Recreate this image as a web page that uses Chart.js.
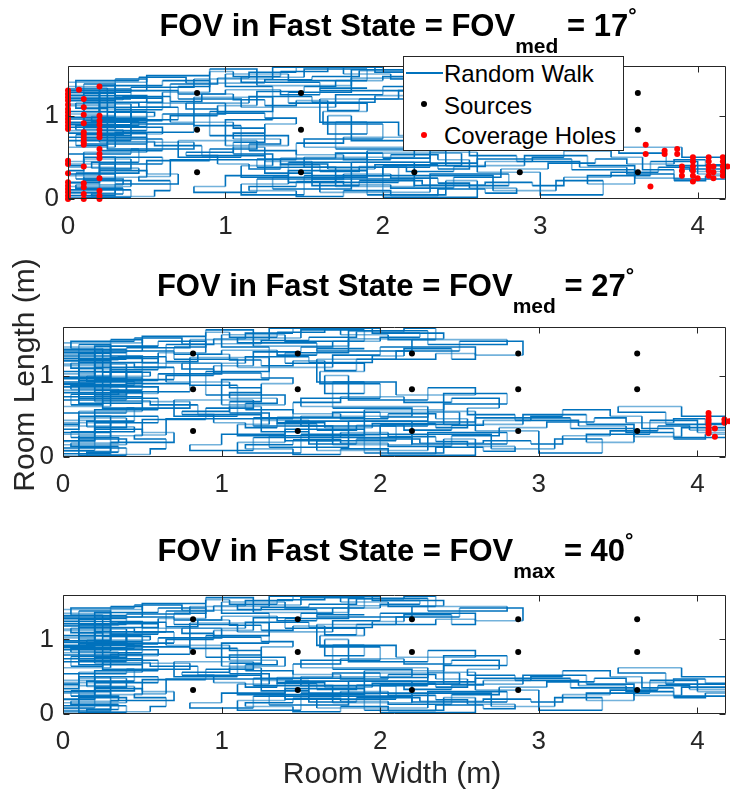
<!DOCTYPE html>
<html>
<head>
<meta charset="utf-8">
<script src="https://cdn.jsdelivr.net/npm/chart.js@4.4.0/dist/chart.umd.min.js"></script>
<style>
body { margin:0; background:#fff; width:730px; height:790px; position:relative; overflow:hidden; font-family:"Liberation Sans", Arial, sans-serif; }
canvas.plot { position:absolute; left:0; }
.ttl { position:absolute; text-align:center; font-weight:bold; font-size:31px; line-height:31px; color:#000; white-space:nowrap; }
.ttl sub { font-size:21px; line-height:0; vertical-align:-17px; }
.ttl sup { font-size:21px; line-height:0; vertical-align:14px; }
.lbl { position:absolute; font-size:30px; line-height:30px; color:#262626; text-align:center; white-space:nowrap; }
#legend { position:absolute; left:403px; top:56px; width:221px; height:95px; box-sizing:border-box; border:1px solid #262626; background:#fff; }
#legend .t { position:absolute; left:40px; font-size:24px; line-height:24px; color:#000; white-space:nowrap; }
#legend .dot { position:absolute; width:6px; height:6px; border-radius:50%; }
</style>
</head>
<body>
<canvas id="c1" class="plot"></canvas>
<canvas id="c2" class="plot"></canvas>
<canvas id="c3" class="plot"></canvas>

<div class="ttl" style="left:68px;width:660px;top:10px">FOV in Fast State = FOV<sub>med</sub> = 17<sup>°</sup></div>
<div class="ttl" style="left:63px;width:665px;top:270px">FOV in Fast State = FOV<sub>med</sub> = 27<sup>°</sup></div>
<div class="ttl" style="left:63px;width:665px;top:535px">FOV in Fast State = FOV<sub>max</sub> = 40<sup>°</sup></div>

<div class="lbl" style="left:-126px;top:360px;width:300px;transform:rotate(-90deg)">Room Length (m)</div>
<div class="lbl" style="left:0;top:758px;width:784px">Room Width (m)</div>

<div id="legend">
  <div style="position:absolute;left:2px;top:15px;width:37px;height:1.5px;background:#0072BD"></div>
  <div class="t" style="top:5px">Random Walk</div>
  <div class="dot" style="left:17px;top:44px;background:#000"></div>
  <div class="t" style="top:37px">Sources</div>
  <div class="dot" style="left:17px;top:75px;background:#ff0000"></div>
  <div class="t" style="top:67px">Coverage Holes</div>
</div>

<script>
// axis ticks
const xTicks = [0, 1, 2, 3, 4];
const yTicks = [0, 1];

// source positions (grid)
const srcX = [0.82, 1.48, 2.2, 2.87, 3.62];
const srcY = [0.32, 0.83, 1.27];

// the random walk (same path in all three panels)
const walk = [
[0.0,0.92],[0.5,0.92],[0.5,1.05],[0.0,1.05],[0.0,1.12],[0.3,1.12],[0.3,0.98],[0.0,0.98],[0.0,0.86],[0.6,0.86],
[0.6,0.78],[0.1,0.78],[0.1,1.2],[0.4,1.2],[0.4,1.32],[0.0,1.32],[0.0,1.26],[0.2,1.26],[0.2,0.95],[0.7,0.95],
[0.7,1.1],[0.2,1.1],[0.2,0.82],[0.0,0.82],[0.0,0.74],[0.5,0.74],[0.5,0.66],[0.1,0.66],[0.1,1.0],[0.3,1.0],
[0.3,1.38],[0.1,1.38],[0.1,1.16],[0.6,1.16],[0.6,1.28],[0.9,1.28],[0.9,1.42],[0.6,1.42],[0.6,1.36],[0.2,1.36],
[0.2,1.02],[0.0,1.02],[0.0,0.89],[0.4,0.89],[0.4,0.7],[0.0,0.7],[0.0,0.62],[0.3,0.62],[0.3,0.8],[0.8,0.8],
[0.8,0.9],[0.4,0.9],[0.4,1.08],[0.1,1.08],[0.1,0.94],[0.6,0.94],[0.6,1.02],[1.0,1.02],[1.0,1.15],[0.5,1.15],
[0.5,1.24],[0.0,1.24],[0.0,1.18],[0.3,1.18],[0.3,0.84],[0.1,0.84],[0.1,0.72],[0.6,0.72],[0.6,0.58],[0.2,0.58],
[0.2,0.45],[0.0,0.45],[0.0,0.3],[0.3,0.3],[0.3,0.04],[0.0,0.04],[0.0,0.15],[0.4,0.15],[0.4,0.22],[0.1,0.22],
[0.1,0.5],[0.3,0.5],[0.3,0.38],[0.0,0.38],[0.0,0.08],[0.2,0.08],[0.2,0.34],[0.5,0.34],[0.5,0.26],[0.1,0.26],
[0.1,0.02],[0.4,0.02],[0.4,0.11],[0.0,0.11],[0.0,0.19],[0.2,0.19],[0.2,0.42],[0.6,0.42],[0.6,0.5],[0.2,0.5],
[0.2,0.28],[0.0,0.28],[0.0,0.01],[0.3,0.01],[0.3,0.18],[0.7,0.18],[0.7,0.3],[0.5,0.3],[0.5,0.46],[0.9,0.46],
[0.9,0.6],[1.2,0.6],[1.2,0.7],[0.7,0.7],[0.7,0.5],[1.1,0.5],[1.1,0.88],[0.8,0.88],[0.8,1.22],[1.3,1.22],
[1.3,1.05],[0.9,1.05],[0.9,0.76],[1.4,0.76],[1.4,0.64],[1.0,0.64],[1.0,0.95],[1.3,0.95],[1.3,1.35],[1.0,1.35],
[1.0,1.5],[1.4,1.5],[1.4,1.42],[1.9,1.42],[1.9,1.56],[1.5,1.56],[1.5,1.46],[1.1,1.46],[1.1,1.4],[1.6,1.4],
[1.6,1.3],[2.2,1.3],[2.2,1.44],[2.8,1.44],[2.8,1.38],[2.3,1.38],[2.3,1.55],[1.8,1.55],[1.8,1.36],[1.2,1.36],
[1.2,1.56],[0.9,1.56],[0.9,1.48],[0.5,1.48],[0.5,1.4],[0.0,1.4],[0.0,1.3],[0.7,1.3],[0.7,1.2],[1.1,1.2],
[1.1,1.1],[1.7,1.1],[1.7,1.25],[2.0,1.25],[2.0,1.35],[2.6,1.35],[2.6,1.25],[2.9,1.25],[2.9,1.42],[2.5,1.42],
[2.5,1.3],[2.1,1.3],[2.1,1.2],[1.6,1.2],[1.6,0.92],[1.9,0.92],[1.9,0.78],[1.65,0.78],[1.65,1.0],[1.8,1.0],
[1.8,0.7],[2.3,0.7],[2.3,0.85],[2.6,0.85],[2.6,0.76],[2.1,0.76],[2.1,0.92],[1.7,0.92],[1.7,0.6],[2.2,0.6],
[2.2,0.5],[1.5,0.5],[1.5,0.38],[2.1,0.38],[2.1,0.2],[1.6,0.2],[1.6,0.08],[2.3,0.08],[2.3,0.3],[2.8,0.3],
[2.8,0.16],[2.2,0.16],[2.2,0.44],[1.8,0.44],[1.8,0.12],[1.3,0.12],[1.3,0.26],[1.9,0.26],[1.9,0.55],[2.5,0.55],
[2.5,0.4],[2.0,0.4],[2.0,0.02],[2.6,0.02],[2.6,0.22],[2.4,0.22],[2.4,0.05],[1.9,0.05],[1.9,0.34],[1.4,0.34],
[1.4,0.18],[1.1,0.18],[1.1,0.05],[1.5,0.05],[1.5,0.28],[2.7,0.28],[2.7,0.1],[3.1,0.1],[3.1,0.22],[3.4,0.22],
[3.4,0.05],[3.0,0.05],[3.0,0.32],[2.6,0.32],[2.6,0.48],[3.2,0.48],[3.2,0.35],[3.6,0.35],[3.6,0.18],[3.3,0.18],
[3.3,0.28],[3.7,0.28],[3.7,0.45],[4.0,0.45],[4.0,0.3],[4.2,0.3],[4.2,0.4],[3.8,0.4],[3.8,0.55],[3.5,0.55],
[3.5,0.62],[3.9,0.62],[3.9,0.5],[4.2,0.5],[4.2,0.36],[3.9,0.36],[3.9,0.25],[3.6,0.25],[3.6,0.4],[3.3,0.4],
[3.3,0.52],[2.9,0.52],[2.9,0.4],[2.4,0.4],[2.4,0.65],[2.8,0.65],[2.8,0.78],[2.4,0.78],[2.4,0.58],[1.9,0.58],
[1.9,0.48],[1.2,0.48],[1.2,0.38],[1.7,0.38],[1.7,0.15],[2.2,0.15],[2.2,0.24],[1.2,0.24],[1.2,0.08],[0.8,0.08],
[0.8,0.15],[1.0,0.15],[1.0,0.28],[1.4,0.28],[1.4,0.44],[2.3,0.44],[2.3,0.62],[1.5,0.62],[1.5,0.72],[2.0,0.72],
[2.0,0.9],[1.62,0.9],[1.62,1.05],[1.9,1.05],[1.9,1.15],[1.4,1.15],[1.4,1.28],[1.8,1.28],[1.8,1.45],[2.4,1.45],
[2.4,1.52],[2.0,1.52],[2.0,1.58],[1.3,1.58],[1.3,1.44],[0.8,1.44],[0.8,1.34],[0.4,1.34],[0.4,1.28],[0.0,1.28],
[0.0,1.35],[0.3,1.35],[0.3,1.22],[0.5,1.22],[0.5,0.82],[0.2,0.82],[0.2,0.68],[0.8,0.68],[0.8,0.6],[0.4,0.6],
[0.4,0.54],[0.0,0.54],[0.0,0.42],[0.3,0.42],[0.3,0.24],[0.1,0.24],[0.1,0.12],[0.3,0.12],[0.3,0.07],[0.0,0.07],
[0.0,0.2],[0.2,0.2],[0.2,0.36],[0.4,0.36],[0.4,0.48],[0.1,0.48],[0.1,0.4],[0.0,0.4],[0.0,0.34],[0.1,0.34],
[0.1,0.56],[0.5,0.56],[0.5,0.79],[0.0,0.79],[0.0,0.96],[0.4,0.96],[0.4,1.14],[0.0,1.14],[0.0,1.21],[0.6,1.21],
[0.6,1.07],[0.3,1.07],[0.3,0.91],[0.1,0.91],[0.1,0.87],[0.5,0.87],[0.5,0.97],[0.2,0.97],[0.2,1.3],[0.5,1.3],
[0.5,1.44],[0.3,1.44],[0.3,1.27],[0.1,1.27],[0.1,1.04],[0.4,1.04],[0.4,0.76],[0.2,0.76],[0.2,0.9],[0.0,0.9],
[0.0,1.19],[0.35,1.19],[0.35,1.23],[0.65,1.23],[0.65,1.17],[0.85,1.17],[0.85,1.26],[1.05,1.26],[1.05,1.19],[1.25,1.19],
[1.25,1.12],[1.45,1.12],[1.45,1.18],[1.65,1.18],[1.65,1.06],[1.85,1.06],[1.85,1.2],[2.35,1.2],[2.35,1.27],[2.6,1.27],
[2.6,1.2],[2.45,1.2],[2.45,1.33],[2.15,1.33],[2.15,1.24],[1.95,1.24],[1.95,1.16],[1.55,1.16],[1.55,1.23],[1.15,1.23],
[1.15,1.15],[0.75,1.15],[0.75,1.08],[0.95,1.08],[0.95,1.0],[0.65,1.0],[0.65,0.92],[1.05,0.92],[1.05,0.85],[1.25,0.85],
[1.25,0.79],[1.05,0.79],[1.05,0.72],[1.35,0.72],[1.35,0.66],[1.15,0.66],[1.15,0.58],[1.45,0.58],[1.45,0.53],[1.75,0.53],
[1.75,0.47],[2.05,0.47],[2.05,0.53],[2.35,0.53],[2.35,0.47],[2.55,0.47],[2.55,0.36],[2.35,0.36],[2.35,0.41],[1.95,0.41],
[1.95,0.36],[1.65,0.36],[1.65,0.42],[1.35,0.42],[1.35,0.36],[1.15,0.36],[1.15,0.42],[0.95,0.42],[0.95,0.52],[0.75,0.52],
[0.75,0.56],[1.05,0.56],[1.05,0.62],[1.25,0.62],[1.25,0.31],[1.55,0.31],[1.55,0.24],[1.75,0.24],[1.75,0.3],[2.05,0.3],
[2.05,0.25],[2.35,0.25],[2.35,0.19],[2.55,0.19],[2.55,0.13],[2.85,0.13],[2.85,0.07],[2.65,0.07],[2.65,0.12],[2.35,0.12],
[2.35,0.04],[2.05,0.04],[2.05,0.1],[1.75,0.1],[1.75,0.03],[1.45,0.03],[1.45,0.1],[1.15,0.1],[1.15,0.15],[1.45,0.15],
[1.45,0.21],[1.75,0.21],[1.75,0.17],[2.05,0.17],[2.05,0.13],[2.45,0.13],[2.45,0.26],[2.75,0.26],[2.75,0.36],[3.05,0.36],
[3.05,0.43],[3.35,0.43],[3.35,0.48],[3.55,0.48],[3.55,0.42],[3.85,0.42],[3.85,0.47],[4.05,0.47],[4.05,0.41],[4.2,0.41],
[4.2,0.33],[3.95,0.33],[3.95,0.38],[3.75,0.38],[3.75,0.32],[3.45,0.32],[3.45,0.26],[3.15,0.26],[3.15,0.16],[2.95,0.16],
[2.95,0.2],[2.65,0.2],[2.65,0.17],[2.25,0.17],[2.25,0.22],[1.85,0.22],[1.85,0.16],[1.55,0.16],[1.55,0.45],[1.25,0.45],
[1.25,0.52],[0.85,0.52],[0.85,0.64],[0.55,0.64],[0.55,0.69],[0.25,0.69],[0.25,0.64],[0.05,0.64],[0.05,0.77],[0.35,0.77],
[0.35,0.83],[0.05,0.83],[0.05,0.88],[0.45,0.88],[0.45,0.93],[0.15,0.93],[0.15,0.99],[0.55,0.99],[0.55,1.04],[0.25,1.04],
[0.25,1.09],[0.05,1.09],[0.05,1.15],[0.45,1.15],[0.45,1.1],[0.65,1.1],[0.65,1.38],[0.95,1.38],[0.95,1.45],[1.15,1.45],
[1.15,1.52],[1.45,1.52],[1.45,1.58],[1.75,1.58],[1.75,1.5],[2.05,1.5],[2.05,1.44],[2.35,1.44],[2.35,1.58],[2.15,1.58],
[2.15,1.54],[1.85,1.54],[1.85,1.47],[1.55,1.47],[1.55,1.43],[1.25,1.43],[1.25,1.39],[0.75,1.39],[0.75,1.46],[0.45,1.46],
[0.45,1.42],[0.05,1.42],[0.05,1.33],[0.25,1.33],[0.25,0.6],[0.45,0.6],[0.45,0.44],[0.15,0.44],[0.15,0.37],[0.45,0.37],
[0.45,0.31],[0.05,0.31],[0.05,0.24],[0.35,0.24],[0.35,0.17],[0.05,0.17],[0.05,0.13],[0.35,0.13],[0.35,0.06],[0.15,0.06],
[0.15,0.03],[0.55,0.03],[0.55,0.1],[0.65,0.1],[0.65,0.22],[0.45,0.22],[0.45,0.27],[0.65,0.27],[0.65,0.47],[1.45,0.47],
[1.45,0.67],[1.75,0.67],[1.75,0.74],[2.15,0.74],[2.15,0.67],[2.45,0.67],[2.45,0.72],[2.75,0.72],[2.75,0.6],[2.55,0.6],
[2.55,0.52],[2.85,0.52],[2.85,0.45],[3.25,0.45],[3.25,0.38],[3.55,0.38],[3.55,0.3],[3.85,0.3],[3.85,0.22],[4.05,0.22],
[4.05,0.28],[4.2,0.28],
[4.2,0.24],[3.85,0.24],[3.85,0.35],[3.65,0.35],[3.65,0.5],[3.45,0.5],[3.45,0.58],[3.15,0.58],[3.15,0.5],[2.95,0.5],
[2.95,0.45],[2.65,0.45],[2.65,0.39],[2.45,0.39],[2.45,0.33],[2.15,0.33],[2.15,0.39],[1.85,0.39],[1.85,0.33],[1.6,0.33],
[1.6,0.41],[1.35,0.41],[1.35,0.49],[1.7,0.49],[1.7,0.55],[2.0,0.55],[2.0,0.49],[2.3,0.49],[2.3,0.56],[2.6,0.56],
[2.6,0.43],[2.3,0.43],[2.3,0.38],[2.0,0.38],[2.0,0.27],[1.7,0.27],[1.7,0.2],[1.4,0.2],[1.4,0.26],[1.1,0.26],
[1.1,0.4],[1.3,0.4],[1.3,0.54],[1.05,0.54],[1.05,0.68],[1.25,0.68],[1.25,0.9],[1.45,0.9],[1.45,0.97],[1.25,0.97],
[1.25,1.03],[0.95,1.03],[0.95,1.12],[1.2,1.12],[1.2,1.29],[1.5,1.29],[1.5,1.35],[1.7,1.35],[1.7,1.42],[2.0,1.42],
[2.0,1.47],[2.25,1.47],[2.25,1.52],[1.95,1.52],[1.95,1.58],[1.65,1.58],[1.65,1.53],[1.35,1.53],[1.35,1.47],[1.05,1.47],
[1.05,1.53],[0.9,1.53],[0.9,1.35],[0.7,1.35],[0.7,1.26],[1.0,1.26],[1.0,1.31],[1.35,1.31],[1.35,1.25],[1.6,1.25],
[1.6,1.33],[1.9,1.33]
];

// coverage holes, FOV = 17 deg
const holes17 = [
[0,1.3],[0,1.26],[0,1.22],[0,1.18],[0,1.13],[0,1.08],[0,1.04],[0,1.0],[0,0.96],[0,0.92],[0,0.88],[0,0.84],
[0,0.46],[0,0.42],[0,0.31],[0,0.2],[0,0.16],[0,0.12],[0,0.08],[0,0.04],[0,0.0],
[0.07,1.31],
[0.1,1.2],[0.1,1.1],[0.1,1.01],[0.1,0.91],[0.1,0.8],[0.1,0.76],[0.1,0.72],[0.1,0.68],[0.1,0.65],
[0.1,0.39],[0.1,0.19],[0.1,0.14],[0.1,0.06],[0.1,0.0],
[0.2,1.35],[0.2,1.0],[0.2,0.94],[0.2,0.89],[0.2,0.83],[0.2,0.78],[0.2,0.74],[0.2,0.6],[0.2,0.54],[0.2,0.49],
[0.2,0.25],[0.2,0.1],[0.2,0.04],[0.2,0.0],
[3.67,0.65],[3.67,0.54],[3.7,0.15],[3.79,0.58],[3.79,0.54],[3.87,0.6],[3.87,0.54],
[3.9,0.39],[3.9,0.34],[3.9,0.28],[3.97,0.5],[3.97,0.45],[3.97,0.39],[3.97,0.34],[3.97,0.28],[3.97,0.21],
[4.0,0.25],[4.07,0.5],[4.07,0.45],[4.07,0.39],[4.07,0.34],[4.07,0.28],[4.1,0.39],[4.1,0.32],[4.1,0.25],
[4.16,0.5],[4.16,0.45],[4.16,0.39],[4.16,0.33],[4.16,0.28],[4.19,0.39]
];

// coverage holes, FOV = 27 deg
const holes27 = [
[4.07,0.54],[4.07,0.5],[4.07,0.46],[4.07,0.43],[4.07,0.39],[4.07,0.35],[4.07,0.32],[4.07,0.29],
[4.11,0.35],[4.11,0.25],[4.17,0.46],[4.17,0.42],[4.2,0.44]
];

// coverage holes, FOV = 40 deg (none)
const holes40 = [];

const FONT = '"Liberation Sans", Arial, sans-serif';
const AXIS = '#262626';

// draws the box and the inward tick marks like matlab
const boxPlugin = {
    id: 'box',
    afterDraw(chart) {
        const ctx = chart.ctx;
        const a = chart.chartArea;
        const sx = chart.scales.x;
        const sy = chart.scales.y;
        const l = Math.round(a.left) + 0.5, r = Math.round(a.right) - 0.5;
        const t = Math.round(a.top) + 0.5, b = Math.round(a.bottom) - 0.5;
        ctx.save();
        ctx.strokeStyle = AXIS;
        ctx.lineWidth = 1;
        ctx.beginPath();
        ctx.rect(l, t, r - l, b - t);
        xTicks.forEach((v) => {
            const px = Math.round(sx.getPixelForValue(v)) + 0.5;
            ctx.moveTo(px, b); ctx.lineTo(px, b - 6);
            ctx.moveTo(px, t); ctx.lineTo(px, t + 6);
        });
        yTicks.forEach((v) => {
            const py = Math.round(sy.getPixelForValue(v)) + 0.5;
            ctx.moveTo(l, py); ctx.lineTo(l + 6, py);
            ctx.moveTo(r, py); ctx.lineTo(r - 6, py);
        });
        ctx.stroke();
        ctx.restore();
    }
};

function toPts(arr) {
    return arr.map((p) => ({ x: p[0], y: p[1] }));
}

const sources = [];
srcX.forEach((x) => srcY.forEach((y) => sources.push({ x: x, y: y })));

function makeChart(id, holes, left, top, bottom) {
    const canvas = document.getElementById(id);
    const padTop = 12;
    const xAxisH = 50;
    canvas.width = 730;
    canvas.height = padTop + (bottom - top) + xAxisH;
    canvas.style.top = (top - padTop) + 'px';

    return new Chart(canvas.getContext('2d'), {
        type: 'scatter',
        data: {
            datasets: [
                {
                    label: 'Coverage Holes',
                    data: toPts(holes),
                    backgroundColor: '#ff0000',
                    borderWidth: 0,
                    pointRadius: 3,
                    clip: false
                },
                {
                    label: 'Sources',
                    data: sources,
                    backgroundColor: '#000000',
                    borderWidth: 0,
                    pointRadius: 3
                },
                {
                    label: 'Random Walk',
                    data: toPts(walk),
                    showLine: true,
                    pointRadius: 0,
                    borderWidth: 1.6,
                    borderColor: '#0072BD',
                    segment: {
                        borderColor: (c) => (c.p0DataIndex % 3 === 1 ? 'rgba(0,114,189,0.55)' : '#0072BD')
                    }
                }
            ]
        },
        options: {
            responsive: false,
            animation: false,
            devicePixelRatio: 1,
            layout: { padding: { top: padTop, right: 2, left: 0, bottom: 0 } },
            plugins: { legend: { display: false }, tooltip: { enabled: false } },
            scales: {
                x: {
                    type: 'linear',
                    min: 0,
                    max: 4.18,
                    grid: { display: false, drawTicks: false },
                    border: { display: false },
                    afterBuildTicks: (s) => { s.ticks = xTicks.map((v) => ({ value: v })); },
                    afterFit: (s) => { s.height = xAxisH; },
                    ticks: { color: AXIS, padding: 12, maxRotation: 0, font: { family: FONT, size: 26 } }
                },
                y: {
                    type: 'linear',
                    min: 0,
                    max: 1.6,
                    grid: { display: false, drawTicks: false },
                    border: { display: false },
                    afterBuildTicks: (s) => { s.ticks = yTicks.map((v) => ({ value: v })); },
                    afterFit: (s) => { s.width = left; },
                    ticks: { color: AXIS, padding: 9, font: { family: FONT, size: 26 } }
                }
            }
        },
        plugins: [boxPlugin]
    });
}

makeChart('c1', holes17, 68, 53, 199);
makeChart('c2', holes27, 63, 314, 457);
makeChart('c3', holes40, 63, 582, 714);
</script>
</body>
</html>
